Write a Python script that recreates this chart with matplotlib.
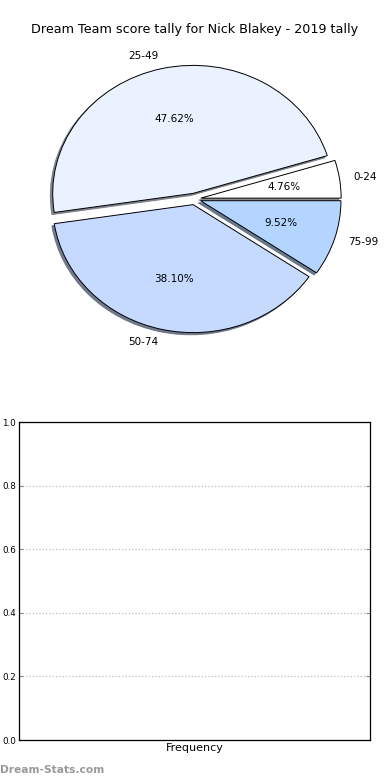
import matplotlib
matplotlib.use("Agg")
import matplotlib.pyplot as plt

labels = ["0-24", "25-49", "50-74", "75-99"]
counts = [1, 10, 8, 2]
colors = ["#FFFFFF", "#EAF1FF", "#C6D9FF", "#B3D5FF"]
explode = [0.045, 0.045, 0.045, 0.045]
title = "Dream Team score tally for Nick Blakey - 2019 tally"
yticks = [0.0, 0.2, 0.4, 0.6, 0.8, 1.0]

fig = plt.figure(figsize=(3.9, 7.8), dpi=100)

ax1 = fig.add_axes([19/390, 1 - 359/780, 351/390, 320/780])
wedges, texts, autotexts = ax1.pie(
    counts, labels=labels, colors=colors, explode=explode,
    autopct="%1.2f%%",
    shadow={"ox": -0.012, "oy": -0.012, "shade": 0.5, "alpha": 0.9},
    startangle=0, counterclock=True,
    wedgeprops=dict(edgecolor="black", linewidth=0.7),
    textprops=dict(fontsize=7.5),
)
ax1.set_aspect("auto")
ax1.set_xlim(-1.25, 1.25)
ax1.set_ylim(-1.25, 1.25)
ax1.set_axis_off()
fig.text(0.5, 1 - 30/780, title, ha="center", va="center", fontsize=9.2)

ax2 = fig.add_axes([19/390, 1 - 740/780, 351/390, 318/780])
ax2.set_ylim(0, 1)
ax2.set_xlim(0, 1)
ax2.set_yticks(yticks)
ax2.set_yticklabels([f"{v:.1f}" for v in yticks], fontsize=6.3)
ax2.set_xticks([])
ax2.tick_params(axis="y", direction="in", length=3, colors="#888888", labelcolor="black", pad=2, right=True)
ax2.yaxis.grid(True, linestyle=":", color="#BBBBBB", linewidth=0.9)
ax2.set_xlabel("Frequency", fontsize=8, labelpad=2)
for s in ax2.spines.values():
    s.set_linewidth(0.9)

fig.text(0.0, 1 - 770/780, "Dream-Stats.com", ha="left", va="center",
         fontsize=7.7, color="#999999", fontweight="bold")

fig.savefig("out.png", dpi=100)
